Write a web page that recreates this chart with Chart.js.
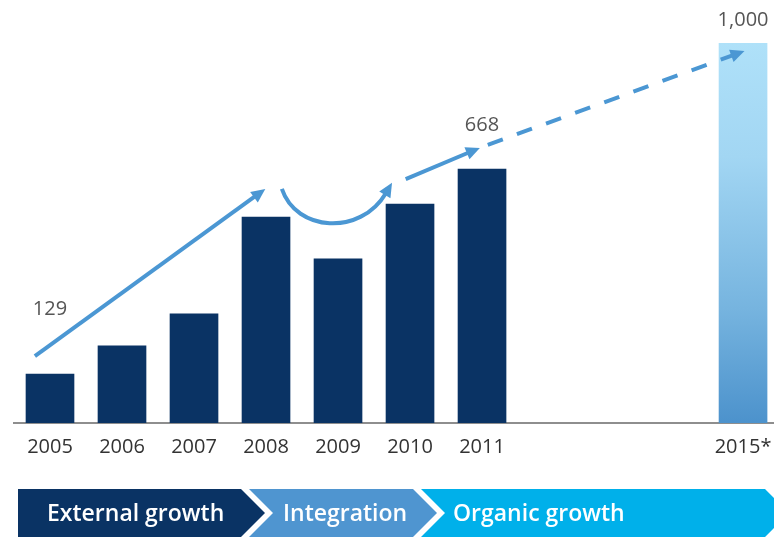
<!DOCTYPE html>
<html>
<head>
<meta charset="utf-8">
<script src="https://cdn.jsdelivr.net/npm/chart.js@4.4.1/dist/chart.umd.min.js"></script>
<style>
  html, body { margin: 0; padding: 0; background: #ffffff; }
  #wrap { position: relative; width: 774px; height: 537px; }
</style>
</head>
<body>
<div id="wrap"><canvas id="chart"></canvas></div>
<script>
// Years on the axis, actual results and the 2015 target
const years = ['2005', '2006', '2007', '2008', '2009', '2010', '2011', '2015*'];
const actualValues = [129, 203, 287, 542, 432, 576, 668, null];
const targetValues = [null, null, null, null, null, null, null, 1000];
const valueLabels = ['129', null, null, null, null, null, '668', '1,000'];
const phases = ['External growth', 'Integration', 'Organic growth'];

const NAVY = '#0a3364';
const ARROW = '#4b97d3';
const FONT = '"Open Sans", "Noto Sans", sans-serif';

// Category axis with a break: the years between the last actual year and the target are squeezed
class BrokenCategoryScale extends Chart.CategoryScale {
  buildTicks() {
    const ticks = super.buildTicks();
    const o = this.options;
    this._startValue = -0.5;
    this._valueRange = (this.getLabels().length - 1) + o.gapSlots + 0.5 + o.tailSlots;
    return ticks;
  }
  getPixelForValue(value) {
    if (typeof value !== 'number') value = this.parse(value);
    if (value === null || value === undefined) return NaN;
    const o = this.options;
    const v = value > o.breakAfter + 0.5 ? value + o.gapSlots : value;
    return this.getPixelForDecimal((v - this._startValue) / this._valueRange);
  }
}
BrokenCategoryScale.id = 'brokenCategory';
Chart.register(BrokenCategoryScale);

// Growth arrows, value labels and the phase band underneath
const annotations = {
  id: 'annotations',
  afterDatasetsDraw(chart, args, opts) {
    const { ctx } = chart;
    const xs = chart.scales.x, ys = chart.scales.y;
    const P = ([i, v]) => [xs.getPixelForValue(i), ys.getPixelForValue(v)];

    const head = (tip, from) => {
      const ang = Math.atan2(tip[1] - from[1], tip[0] - from[0]);
      const L = opts.headLength, W = opts.headWidth / 2;
      ctx.beginPath();
      ctx.moveTo(tip[0], tip[1]);
      ctx.lineTo(tip[0] - L * Math.cos(ang) + W * Math.sin(ang), tip[1] - L * Math.sin(ang) - W * Math.cos(ang));
      ctx.lineTo(tip[0] - L * Math.cos(ang) - W * Math.sin(ang), tip[1] - L * Math.sin(ang) + W * Math.cos(ang));
      ctx.closePath();
      ctx.fill();
      return [tip[0] - (L - 2) * Math.cos(ang), tip[1] - (L - 2) * Math.sin(ang)];
    };

    ctx.save();
    ctx.strokeStyle = ARROW;
    ctx.fillStyle = ARROW;
    ctx.lineWidth = opts.lineWidth;
    ctx.lineCap = 'butt';

    opts.arrows.forEach(a => {
      const pts = a.points.map(P);
      const tip = pts[pts.length - 1];
      const from = pts[pts.length - 2];
      const end = head(tip, from);
      ctx.setLineDash(a.dash || []);
      ctx.beginPath();
      ctx.moveTo(pts[0][0], pts[0][1]);
      if (pts.length === 4) {
        ctx.bezierCurveTo(pts[1][0], pts[1][1], pts[2][0], pts[2][1], end[0], end[1]);
      } else {
        ctx.lineTo(end[0], end[1]);
      }
      ctx.stroke();
    });
    ctx.setLineDash([]);

    // value labels
    ctx.fillStyle = '#555555';
    ctx.font = '20px ' + FONT;
    ctx.textAlign = 'center';
    ctx.textBaseline = 'middle';
    valueLabels.forEach((txt, i) => {
      if (!txt) return;
      const v = actualValues[i] !== null ? actualValues[i] : targetValues[i];
      ctx.fillText(txt, xs.getPixelForValue(i), ys.getPixelForValue(v) - opts.labelLift[i]);
    });

    // phase band
    const b = opts.band;
    const top = b.top, bot = b.top + b.height, mid = top + b.height / 2, d = b.depth;
    b.segments.forEach((s, k) => {
      ctx.fillStyle = s.color;
      ctx.beginPath();
      ctx.moveTo(s.from, top);
      ctx.lineTo(s.to, top);
      ctx.lineTo(s.to + d, mid);
      ctx.lineTo(s.to, bot);
      ctx.lineTo(s.from, bot);
      if (k > 0) ctx.lineTo(s.from + d, mid);
      ctx.closePath();
      ctx.fill();
      ctx.fillStyle = '#ffffff';
      ctx.font = '600 23px ' + FONT;
      ctx.textAlign = 'left';
      ctx.textBaseline = 'middle';
      ctx.fillText(phases[k], s.textX, mid + 1);
    });
    ctx.restore();
  }
};

const targetFill = (context) => {
  const { chart } = context;
  const area = chart.chartArea;
  if (!area) return '#8fcaee';
  const g = chart.ctx.createLinearGradient(0, area.top, 0, area.bottom);
  g.addColorStop(0, '#afe1f9');
  g.addColorStop(0.3, '#a2d6f3');
  g.addColorStop(0.7, '#76b4df');
  g.addColorStop(1, '#4c92cc');
  return g;
};

new Chart(document.getElementById('chart'), {
  type: 'bar',
  data: {
    labels: years,
    datasets: [
      { data: actualValues, backgroundColor: NAVY, grouped: false, barThickness: 48, borderWidth: 0 },
      { data: targetValues, backgroundColor: targetFill, grouped: false, barThickness: 48, borderWidth: 0 }
    ]
  },
  options: {
    responsive: true,
    maintainAspectRatio: false,
    animation: false,
    events: [],
    layout: { padding: { top: 43, left: 14, right: 0, bottom: 66 } },
    plugins: {
      legend: { display: false },
      tooltip: { enabled: false },
      annotations: {
        lineWidth: 4,
        headLength: 14,
        headWidth: 13,
        labelLift: [65, 0, 0, 0, 0, 0, 44, 23],
        arrows: [
          { points: [[-0.21, 176], [2.99, 616]] },
          { points: [[3.22, 616], [3.42, 503], [4.31, 492], [4.75, 632]] },
          { points: [[4.94, 642], [5.97, 724]] },
          { points: [[6.08, 732], [7.02, 979]], dash: [16, 15] }
        ],
        band: {
          top: 489, height: 48, depth: 24,
          segments: [
            { from: 18, to: 241, color: NAVY, textX: 47 },
            { from: 249, to: 413, color: '#4f95d0', textX: 283 },
            { from: 421, to: 765, color: '#00b0ea', textX: 453 }
          ]
        }
      }
    },
    scales: {
      x: {
        type: 'brokenCategory',
        offset: true,
        breakAfter: 6,
        gapSlots: 2.625,
        tailSlots: 0.43,
        // the last label may run to the canvas edge, so keep the plot full width
        afterFit(scale) {
          scale.paddingLeft = 0;
          scale.paddingRight = 0;
        },
        grid: { display: false, drawTicks: false },
        border: { display: true, color: '#8e8e8e', width: 2 },
        ticks: {
          autoSkip: false,
          maxRotation: 0,
          padding: 12,
          color: '#333333',
          font: { family: FONT, size: 20 }
        }
      },
      y: {
        display: false,
        min: 0,
        max: 1000
      }
    }
  },
  plugins: [annotations]
});
</script>
</body>
</html>
